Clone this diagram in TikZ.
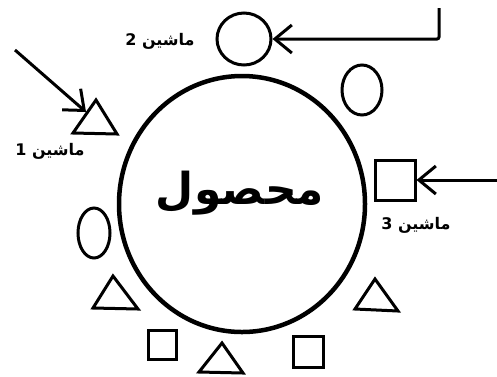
\documentclass[tikz,border=0pt]{standalone}
\usepackage{fontspec}
\newfontfamily\arabicfont[Script=Arabic]{DejaVu Sans}
\TeXXeTstate=1
\usetikzlibrary{shapes.geometric,arrows.meta}
\begin{document}
\begin{tikzpicture}[x=1pt,y=-1pt,
  shp/.style={draw, line width=3pt, inner sep=0pt},
  oval/.style={shp, ellipse},
  sq/.style={shp, rectangle},
  tri/.style={draw, line width=3pt, line join=miter},
  lbl/.style={font=\arabicfont\bfseries\fontsize{16}{18}\selectfont, inner sep=0pt},
  big/.style={font=\arabicfont\bfseries\fontsize{44}{50}\selectfont, inner sep=0pt},
  arr/.style={line width=3pt, -{Straight Barb[length=17pt,width=28pt,line width=3pt]}}]
\useasboundingbox (0,0) rectangle (497,376);
% main product circle
\node[draw, ellipse, line width=4.5pt, inner sep=0pt, minimum width=246pt, minimum height=256pt] (prod) at (242,204) {};
\node[big] (ptext) at (240,193) {\beginR محصول\endR};
% machine 2
\node[oval, minimum width=54pt, minimum height=52pt] (m2) at (244,39) {};
\node[lbl] (l2) at (160,41) {\beginR ماشین 2\endR};
\coordinate (a2) at (439,8);
\draw[arr, rounded corners=2pt] (a2) |- (m2.east);
% top right ellipse
\node[oval, minimum width=40pt, minimum height=50pt] (e1) at (362,90) {};
% machine 1 triangle
\draw[tri] (96,100) -- (73,133) -- (117,134) -- cycle;
\coordinate (t1) at (86,112);
\coordinate (a1) at (15,50);
\draw[arr] (a1) -- (t1);
\node[lbl] (l1) at (50,151) {\beginR ماشین 1\endR};
% machine 3 square
\node[sq, minimum width=40pt, minimum height=40pt] (m3) at (395,180) {};
\coordinate (a3) at (497,180);
\draw[arr] (a3) -- (m3.east);
\node[lbl] (l3) at (416,225) {\beginR ماشین 3\endR};
% left ellipse
\node[oval, minimum width=32pt, minimum height=50pt] (e2) at (94,233) {};
% triangles
\draw[tri] (113,276) -- (93,308) -- (138,309) -- cycle;
\draw[tri] (375,279) -- (355,309) -- (398,311) -- cycle;
\draw[tri] (222,343) -- (199,372) -- (243,373) -- cycle;
% squares
\node[sq, minimum width=28pt, minimum height=29pt] (s1) at (162,345) {};
\node[sq, minimum width=30pt, minimum height=31pt] (s2) at (308,352) {};
\end{tikzpicture}
\end{document}
